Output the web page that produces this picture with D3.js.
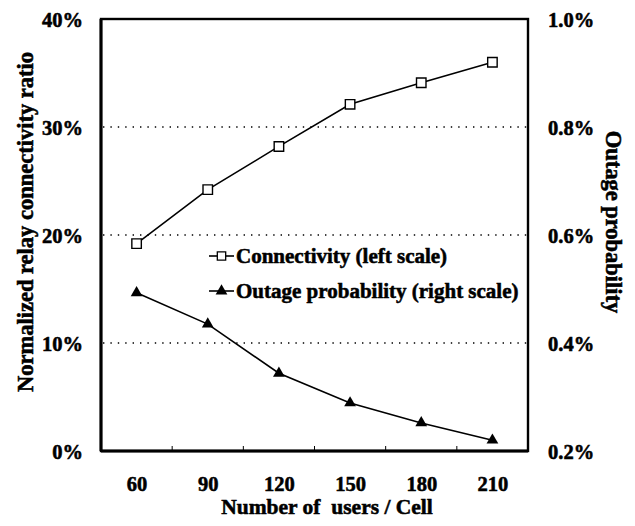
<!DOCTYPE html>
<html>
<head>
<meta charset="utf-8">
<script src="https://cdn.jsdelivr.net/npm/d3@7/dist/d3.min.js"></script>
<style>
  html, body { margin: 0; padding: 0; background: #fff; }
  svg { display: block; }
  svg text {
    font-family: "Liberation Serif", "Times New Roman", serif !important;
    font-weight: 700 !important;
    fill: #000;
    stroke: #000; stroke-width: 0.55px; paint-order: stroke;
  }
</style>
</head>
<body>
<div id="chart"></div>
<script>
// Users per cell (categories on the x axis)
const users = [60, 90, 120, 150, 180, 210];
// Normalized relay connectivity ratio, % (left scale)
const connectivity = [19.2, 24.2, 28.2, 32.1, 34.1, 36.0];
// Outage probability, % (right scale)
const outage = [0.493, 0.435, 0.344, 0.289, 0.252, 0.220];
// Tick labels
const leftTicks = [0, 10, 20, 30, 40];
const rightTicks = [0.2, 0.4, 0.6, 0.8, 1.0];
const seriesNames = ["Connectivity (left scale)", "Outage probability (right scale)"];

const W = 635, H = 526;
const m = { left: 101, top: 19, right: 107, bottom: 75 };
const iw = W - m.left - m.right, ih = H - m.top - m.bottom;

const svg = d3.select("#chart").append("svg").attr("width", W).attr("height", H);
const g = svg.append("g").attr("transform", `translate(${m.left},${m.top})`);

// Category axis: each user count sits in the middle of a 30-wide slot
const x = d3.scaleLinear().domain([45, 225]).range([0, iw]);
const yL = d3.scaleLinear().domain([0, 40]).range([ih, 0]);
const yR = d3.scaleLinear().domain([0.2, 1.0]).range([ih, 0]);

// Dotted gridlines
g.append("g").selectAll("line").data(leftTicks.filter(t => t > 0 && t < 40)).join("line")
  .attr("x1", 2).attr("x2", iw)
  .attr("y1", d => yL(d)).attr("y2", d => yL(d))
  .attr("stroke", "#000").attr("stroke-width", 1.4)
  .attr("stroke-dasharray", "1.4,6");

// Frame: heavier on the left and bottom
g.append("rect").attr("width", iw).attr("height", ih)
  .attr("fill", "none").attr("stroke", "#000").attr("stroke-width", 2.4);
g.append("line").attr("x1", 0).attr("x2", 0).attr("y1", 0).attr("y2", ih)
  .attr("stroke", "#000").attr("stroke-width", 3);
g.append("line").attr("x1", 0).attr("x2", iw).attr("y1", ih).attr("y2", ih)
  .attr("stroke", "#000").attr("stroke-width", 3);

// Left axis labels
const leftAxis = d3.axisLeft(yL).tickValues(leftTicks).tickSize(0).tickPadding(18)
  .tickFormat(d => d + "%");
g.append("g").call(leftAxis).call(s => s.select(".domain").remove())
  .selectAll("text").style("font-size", "20.5px").attr("dy", "0.36em");

// Right axis labels
const rightAxis = d3.axisRight(yR).tickValues(rightTicks).tickSize(0).tickPadding(20)
  .tickFormat(d => d.toFixed(1) + "%");
g.append("g").attr("transform", `translate(${iw},0)`).call(rightAxis)
  .call(s => s.select(".domain").remove())
  .selectAll("text").style("font-size", "20.5px").attr("dy", "0.36em");

// Bottom axis: labels at categories, small inward ticks at slot boundaries
const bottomAxis = d3.axisBottom(x).tickValues(users).tickSize(0).tickPadding(40)
  .tickFormat(d3.format("d"));
g.append("g").attr("transform", `translate(0,${ih})`).call(bottomAxis)
  .call(s => s.select(".domain").remove())
  .selectAll("text").style("font-size", "20.5px").attr("dy", "0");

const bounds = users.slice(0, -1).map(u => u + 15);
g.append("g").selectAll("line").data(bounds).join("line")
  .attr("x1", d => x(d)).attr("x2", d => x(d))
  .attr("y1", ih).attr("y2", ih - 5)
  .attr("stroke", "#000").attr("stroke-width", 1);

// Axis titles
svg.append("text").attr("transform", "translate(33,222) rotate(-90)")
  .attr("text-anchor", "middle").style("font-size", "22.5px")
  .text("Normalized relay connectivity ratio");
svg.append("text").attr("transform", "translate(606,222) rotate(90)")
  .attr("text-anchor", "middle").style("font-size", "22.5px")
  .text("Outage probability");
svg.append("text").attr("x", 327).attr("y", 514)
  .attr("text-anchor", "middle").style("font-size", "21.5px").style("white-space", "pre")
  .text("Number of  users / Cell");

// Series lines
const lineL = d3.line().x((d, i) => x(users[i])).y(d => yL(d));
const lineR = d3.line().x((d, i) => x(users[i])).y(d => yR(d));
g.append("path").datum(connectivity).attr("d", lineL)
  .attr("fill", "none").attr("stroke", "#000").attr("stroke-width", 1.6);
g.append("path").datum(outage).attr("d", lineR)
  .attr("fill", "none").attr("stroke", "#000").attr("stroke-width", 1.6);

const sq = d3.symbol().type(d3.symbolSquare).size(90);
const tri = d3.symbol().type(d3.symbolTriangle).size(60);

g.append("g").selectAll("path").data(connectivity).join("path")
  .attr("transform", (d, i) => `translate(${x(users[i])},${yL(d)})`)
  .attr("d", sq).attr("fill", "#fff").attr("stroke", "#000").attr("stroke-width", 1.4);
g.append("g").selectAll("path").data(outage).join("path")
  .attr("transform", (d, i) => `translate(${x(users[i])},${yR(d)})`)
  .attr("d", tri).attr("fill", "#000");

// Legend
const legend = svg.append("g").attr("transform", "translate(209,256)");
const rows = legend.selectAll("g").data(seriesNames).join("g")
  .attr("transform", (d, i) => `translate(0,${i * 35})`);
rows.append("line").attr("x1", 0).attr("x2", 25).attr("y1", 0).attr("y2", 0)
  .attr("stroke", "#000").attr("stroke-width", 1.6);
rows.append("path").attr("transform", "translate(12.5,0)")
  .attr("d", (d, i) => i === 0 ? d3.symbol().type(d3.symbolSquare).size(70)() : tri())
  .attr("fill", (d, i) => i === 0 ? "#fff" : "#000")
  .attr("stroke", (d, i) => i === 0 ? "#000" : "none").attr("stroke-width", 1.3);
rows.append("text").attr("x", 27).attr("dy", "0.35em").style("font-size", "21px")
  .text(d => d);
</script>
</body>
</html>
